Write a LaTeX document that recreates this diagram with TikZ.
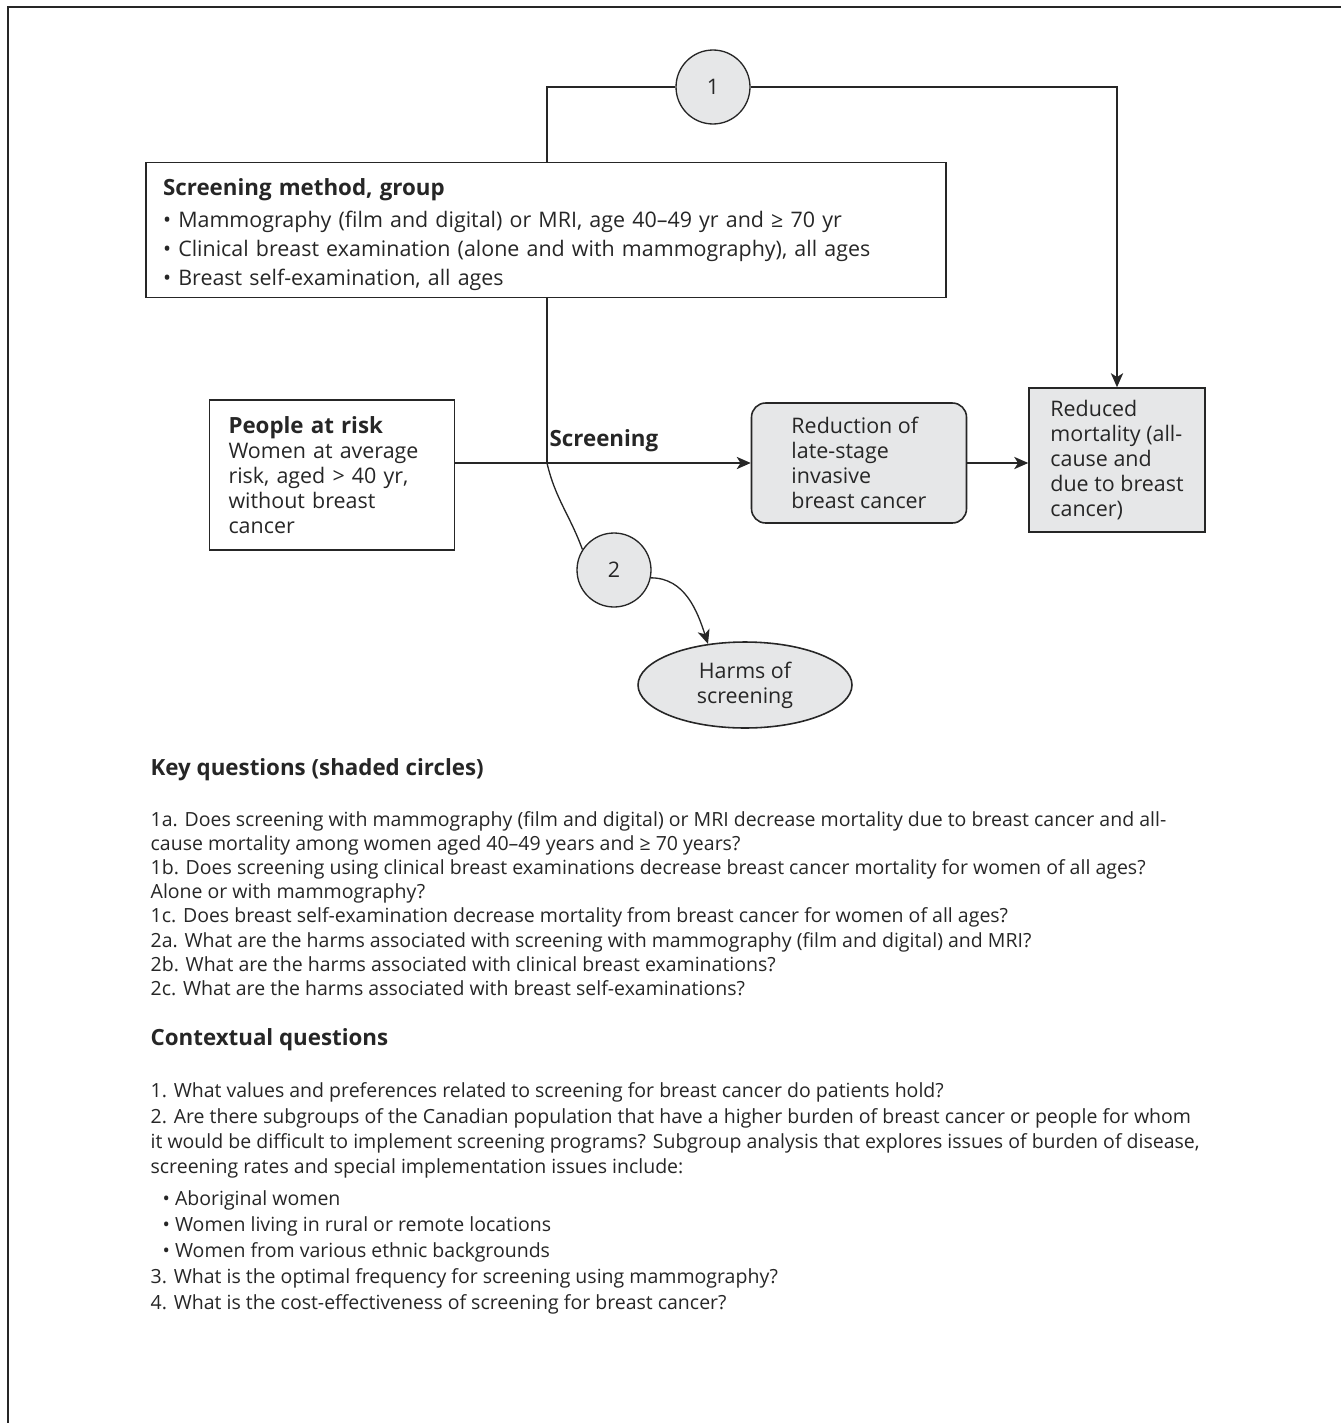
\documentclass[tikz,border=0pt]{standalone}
\usepackage{fontspec}
\setmainfont{Open Sans}
\usetikzlibrary{arrows.meta,shapes.geometric}
\definecolor{ink}{HTML}{262626}
\definecolor{shade}{HTML}{E6E7E8}
\newcommand{\dfont}{\fontsize{12.2}{14.2}\selectfont}
\newcommand{\bfont}{\fontsize{11.1}{13}\selectfont}
\newcommand{\hd}[1]{{\fontsize{12.7}{14.2}\selectfont\bfseries #1}}
\begin{document}
\begin{tikzpicture}
          [x=0.02cm,y=-0.02cm,color=ink,line width=0.75pt,>={Stealth[length=8pt,width=7pt,inset=2.2pt]},
           every node/.style={inner sep=0pt, font=\dfont},
           box/.style={draw, line width=0.9pt, align=left},
           qline/.style={anchor=base west, font=\bfont}]
        \useasboundingbox (0,0) rectangle (1341,1423);
        \draw[line width=1.4pt] (8,1423) -- (8,7) -- (1341,7);

        \node[box, text width=15.32cm, inner xsep=0.34cm, minimum height=2.7cm] (n1) at (546,230)
          {\rule{0pt}{15pt}\hd{Screening method, group}\\[4pt]
           • Mammography (film and digital) or MRI, age 40–49 yr and ≥ 70 yr\\[2.4pt]
           • Clinical breast examination (alone and with mammography), all ages\\[2.4pt]
           • Breast self-examination, all ages};
        \node[box, text width=4.14cm, inner xsep=0.38cm, minimum height=3cm] (n2) at (332,475)
          {\hd{People at risk}\\Women at average\\risk, aged > 40 yr,\\without breast\\cancer};
        \node[box, fill=shade, rounded corners=8pt, minimum width=4.3cm, minimum height=2.4cm] (n3) at (859,463)
          {Reduction of\\late-stage\\invasive\\breast cancer};
        \node[box, fill=shade, minimum width=3.52cm, minimum height=2.88cm] (n4) at (1117,460)
          {Reduced\\mortality (all-\\cause and\\due to breast\\cancer)};
        \node[box, ellipse, fill=shade, align=center, minimum width=4.28cm, minimum height=1.72cm] (n5) at (745,685)
          {Harms of\\screening};
        \node[draw, circle, fill=shade, minimum size=1.48cm] (c1) at (713,87) {1};
        \node[draw, circle, fill=shade, minimum size=1.48cm] (c2) at (614,570) {2};
        \coordinate (j) at (547,463);
        \node[anchor=base west] (s) at (549,446) {\hd{Screening}};

        \draw (n1.north -| j) |- (c1);
        \draw[->] (c1) -| (n4);
        \draw (n1.south -| j) -- (j);
        \draw[->] (n2.east |- n3) -- (n3);
        \draw[->] (n3.east) -- (n4.west |- n3.east);
        \draw (j) to[out=-77,in=110] (c2.147);
        \draw[->] (c2.-12) to[out=0,in=108] (n5.132);

        \node[qline] (h1) at (150,775) {\hd{Key questions (shaded circles)}};
        \node[qline] (h2) at (150,1045) {\hd{Contextual questions}};
        \foreach \y/\txt in {826/{1a. Does screening with mammography (film and digital) or MRI decrease mortality due to breast cancer and all-},
                             850/{cause mortality among women aged 40–49 years and ≥ 70 years?},
                             874/{1b. Does screening using clinical breast examinations decrease breast cancer mortality for women of all ages?},
                             898/{Alone or with mammography?},
                             922/{1c. Does breast self-examination decrease mortality from breast cancer for women of all ages?},
                             947/{2a. What are the harms associated with screening with mammography (film and digital) and MRI?},
                             971/{2b. What are the harms associated with clinical breast examinations?},
                             995/{2c. What are the harms associated with breast self-examinations?},
                             1097/{1. What values and preferences related to screening for breast cancer do patients hold?},
                             1123/{2. Are there subgroups of the Canadian population that have a higher burden of breast cancer or people for whom},
                             1148/{it would be difficult to implement screening programs? Subgroup analysis that explores issues of burden of disease,},
                             1173/{screening rates and special implementation issues include:},
                             1283/{3. What is the optimal frequency for screening using mammography?},
                             1309/{4. What is the cost-effectiveness of screening for breast cancer?}}
          \node[qline] (q\y) at (150,\y) {\txt};
        \foreach \y/\txt in {1205/Aboriginal women, 1231/Women living in rural or remote locations, 1257/Women from various ethnic backgrounds}
          \node[qline] (b\y) at (162,\y) {• \txt};
      \end{tikzpicture}
\end{document}
